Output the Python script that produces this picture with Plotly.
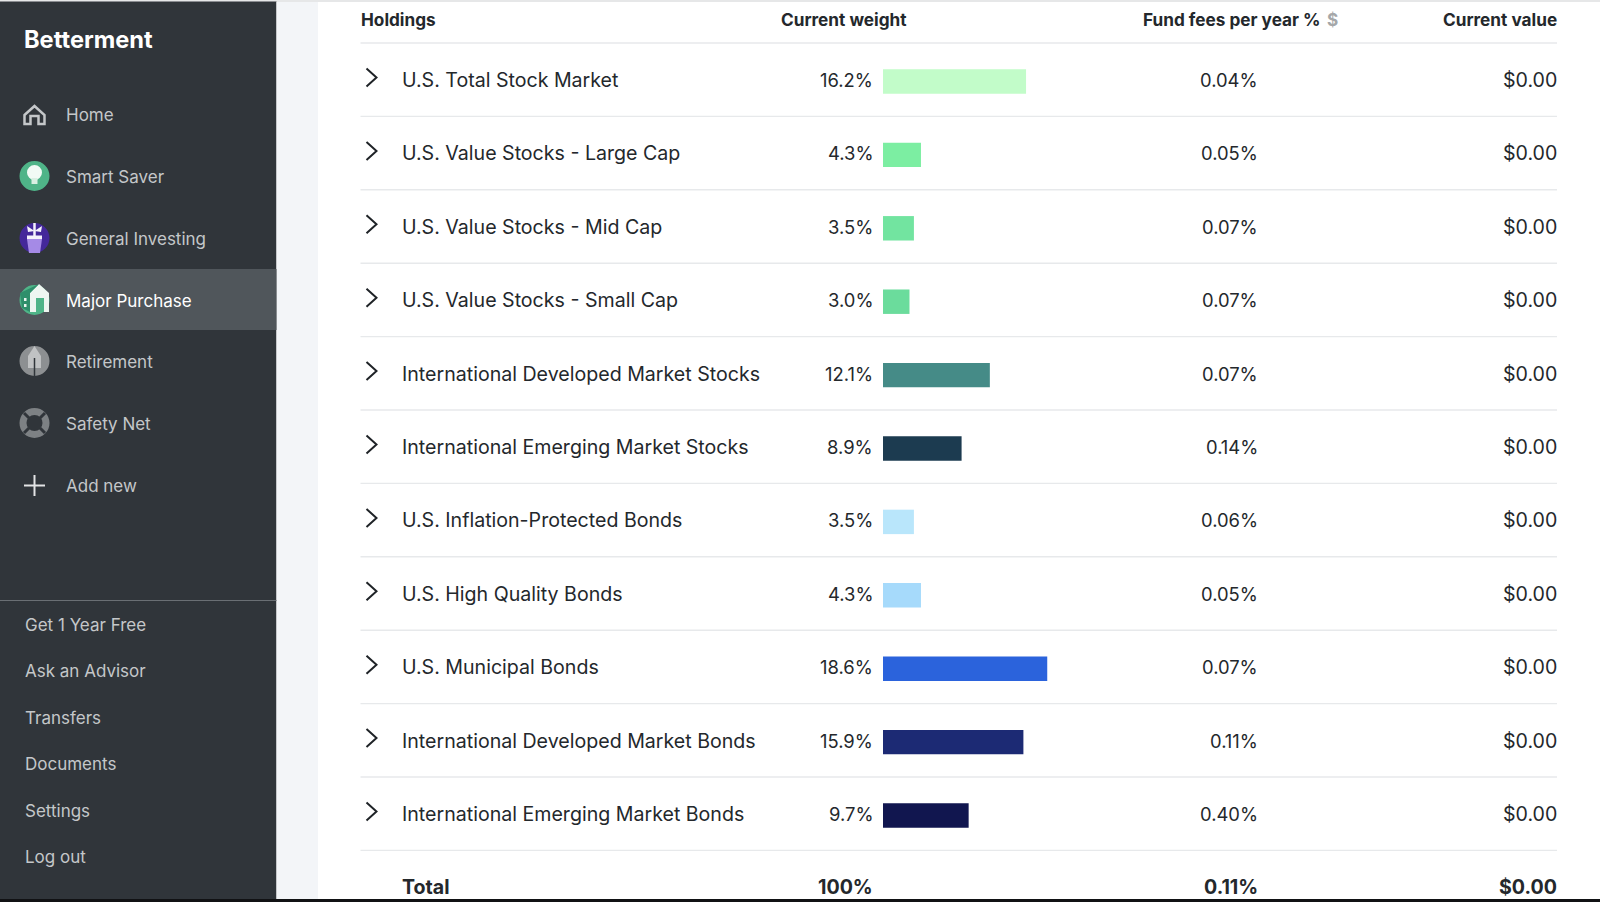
import plotly.graph_objects as go

holdings = ["U.S. Total Stock Market", "U.S. Value Stocks - Large Cap", "U.S. Value Stocks - Mid Cap",
            "U.S. Value Stocks - Small Cap", "International Developed Market Stocks",
            "International Emerging Market Stocks", "U.S. Inflation-Protected Bonds", "U.S. High Quality Bonds",
            "U.S. Municipal Bonds", "International Developed Market Bonds", "International Emerging Market Bonds"]
weights = [16.2, 4.3, 3.5, 3.0, 12.1, 8.9, 3.5, 4.3, 18.6, 15.9, 9.7]
fees = ["0.04%", "0.05%", "0.07%", "0.07%", "0.07%", "0.14%", "0.06%", "0.05%", "0.07%", "0.11%", "0.40%"]
values = ["$0.00"] * 11
bar_colors = ["#c2fcc9", "#7ceea2", "#72e4a0", "#6bdc9c", "#458b87", "#1c3b50",
              "#b9e6fb", "#a6dafb", "#2b63dc", "#1c2a74", "#11164f"]
total_label = "Total"
total_weight = "100%"
total_fee = "0.11%"
total_value = "$0.00"
nav_top = ["Home", "Smart Saver", "General Investing", "Major Purchase", "Retirement", "Safety Net", "Add new"]
nav_top_y = [115, 177, 239, 301, 362, 424, 486]
nav_bottom = ["Get 1 Year Free", "Ask an Advisor", "Transfers", "Documents", "Settings", "Log out"]
nav_bottom_y = [625, 671, 718, 764, 811, 857]

W, H = 1600, 902
BODY = "Inter"
HEAD = "Inter"
INK = "#24282c"
categories = holdings + [total_label]
PX_PER_PCT = 8.83
ZERO_X = 883
ROW = 73.4
ROW0 = 81.5
TXT_SHIFT = -1.5


def X(p):
    return p / W


def Y(p):
    return 1 - p / H


def rect(x0, y0, x1, y1, color, layer="below"):
    return dict(type="rect", xref="paper", yref="paper", x0=X(x0), x1=X(x1), y0=Y(y0), y1=Y(y1),
                fillcolor=color, line_width=0, layer=layer)


def circle(cx, cy, r, color):
    return dict(type="circle", xref="paper", yref="paper", x0=X(cx - r), x1=X(cx + r), y0=Y(cy - r), y1=Y(cy + r),
                fillcolor=color, line_width=0, layer="above")


def path(points, fill=None, line=None, width=2, closed=False):
    d = "M " + " L ".join(f"{X(a):.5f},{Y(b):.5f}" for a, b in points) + (" Z" if closed else "")
    s = dict(type="path", xref="paper", yref="paper", path=d, layer="above",
             line=dict(color=line or "rgba(0,0,0,0)", width=width if line else 0))
    if fill:
        s["fillcolor"] = fill
    return s


def text(x, y, s, size, color, anchor="left", font=BODY, yref="paper", yshift=0):
    return dict(x=X(x), y=Y(y) if yref == "paper" else y, xref="paper", yref=yref, text=s, showarrow=False,
                xanchor=anchor, yanchor="middle", borderpad=0, align=anchor, yshift=-yshift,
                font=dict(family=font, size=size, color=color))


fig = go.Figure(go.Bar(x=weights, y=holdings, orientation="h", width=0.333,
                       marker=dict(color=bar_colors, line_width=0), hoverinfo="skip"))

shapes = [
    rect(0, 0, W, 2, "#e6e7e8"),
    rect(0, 1.5, 276.5, 899, "#30353a"),
    rect(276.5, 2, 318, 899, "#f3f5f8"),
    rect(0, 269, 276.5, 330, "#50565b"),
    rect(0, 600, 276.5, 601, "#6a6f74"),
    rect(0, 899, W, H, "#111214"),
]
for i in range(12):
    yy = 43 + ROW * i
    shapes.append(rect(360.5, yy - 0.7, 1557, yy + 0.7, "#e7e9eb"))
for i in range(len(holdings)):
    c = ROW0 + ROW * i - 4
    shapes.append(path([(366.5, c - 9), (376.5, c), (366.5, c + 9)], line="#1f2327", width=2))

LIGHT = "#c4c7c9"
shapes += [
    # home
    path([(24.5, 115), (34.5, 106), (44.5, 115), (44.5, 124), (38.5, 124), (38.5, 116), (30.5, 116), (30.5, 124),
          (24.5, 124)], line=LIGHT, width=2.5, closed=True),
    # bulb
    circle(34.5, 176, 15, "#4fb488"),
    circle(34.5, 172.5, 7.5, "#f2faf5"),
    rect(31.5, 178, 37.5, 184, "#d9efe2", layer="above"),
    # plant
    circle(34.5, 238, 15, "#44289a"),
    path([(27, 239), (42, 239), (40, 253), (29, 253)], fill="#a58ae6", closed=True),
    rect(27, 235.5, 42, 239, "#f4f2fb", layer="above"),
    path([(34.5, 223), (34.5, 236)], line="#f4f2fb", width=2.5),
    path([(34.5, 231), (27, 226), (28, 232)], fill="#f4f2fb", closed=True),
    path([(34.5, 231), (42, 226), (41, 232)], fill="#f4f2fb", closed=True),
    # house
    circle(34.5, 300, 15, "#4fb488"),
    path([(30, 293), (39, 284), (49, 293), (49, 312), (30, 312)], fill="#eef6f1", closed=True),
    path([(20, 293), (39, 284), (30, 293), (30, 312), (22, 308)], fill="#2f8f6b", closed=True),
    path([(36, 298), (44, 298), (44, 312), (36, 312)], fill="#4fb488", closed=True),
    rect(24, 298, 26.5, 301, "#eaf4ee", layer="above"),
    rect(24, 304, 26.5, 307, "#eaf4ee", layer="above"),
    # rocket
    circle(34.5, 361, 15, "#8d9092"),
    path([(34.5, 346), (41, 356), (41, 368), (28, 368), (28, 356)], fill="#c0c2c3", closed=True),
    path([(34.5, 358), (34.5, 376)], line="#30353a", width=1.5),
    # life ring
    circle(34.5, 423, 15, "#7d8184"),
    circle(34.5, 423, 8, "#30353a"),
    path([(24, 413), (29, 418)], line="#30353a", width=3),
    path([(45, 413), (40, 418)], line="#30353a", width=3),
    path([(24, 433), (29, 428)], line="#30353a", width=3),
    path([(45, 433), (40, 428)], line="#30353a", width=3),
    # plus
    path([(24, 485.5), (45, 485.5)], line="#e3e4e5", width=2),
    path([(34.5, 475), (34.5, 496)], line="#e3e4e5", width=2),
]

HSIZE = 17.2
ann = [
    text(22.5, 40, "<b>Betterment</b>", 23.6, "#ffffff"),
    text(360, 19.5, "<b>Holdings</b>", HSIZE, INK, font=HEAD),
    text(779.5, 19.5, "<b>Current weight</b>", HSIZE, INK, font=HEAD),
    text(1322, 19.5, "<b>Fund fees per year %</b>", HSIZE, INK, "right", HEAD),
    text(1326, 19.5, "<b>$</b>", HSIZE, "#a5a7a9", font=HEAD),
    text(1558, 19.5, "<b>Current value</b>", HSIZE, INK, "right", HEAD),
]
for label, yy in zip(nav_top, nav_top_y):
    ann.append(text(65, yy, label, 17, "#ffffff" if label == "Major Purchase" else "#c4c7c9"))
for label, yy in zip(nav_bottom, nav_bottom_y):
    ann.append(text(23.5, yy, label, 17, "#c4c7c9"))
for name, w, f, v in zip(holdings, weights, fees, values):
    ann.append(text(401, name, name, 19.6, INK, yref="y", yshift=TXT_SHIFT))
    ann.append(text(874, name, f"{w:.1f}%", 18.4, INK, "right", yref="y", yshift=TXT_SHIFT))
    ann.append(text(1259, name, f, 18.4, INK, "right", yref="y", yshift=TXT_SHIFT))
    ann.append(text(1558, name, v, 19.6, INK, "right", yref="y", yshift=TXT_SHIFT))
ann.append(text(401, total_label, f"<b>{total_label}</b>", 19.6, INK, yref="y", yshift=TXT_SHIFT))
ann.append(text(874, total_label, f"<b>{total_weight}</b>", 19.6, INK, "right", yref="y", yshift=TXT_SHIFT))
ann.append(text(1259, total_label, f"<b>{total_fee}</b>", 19.6, INK, "right", yref="y", yshift=TXT_SHIFT))
ann.append(text(1558, total_label, f"<b>{total_value}</b>", 19.6, INK, "right", yref="y", yshift=TXT_SHIFT))

fig.update_layout(
    width=W, height=H, margin=dict(l=0, r=0, t=0, b=0), showlegend=False,
    paper_bgcolor="#ffffff", plot_bgcolor="rgba(0,0,0,0)",
    xaxis=dict(visible=False, range=[-ZERO_X / PX_PER_PCT, (W - ZERO_X) / PX_PER_PCT], fixedrange=True),
    yaxis=dict(visible=False, type="category", categoryorder="array", categoryarray=categories,
               range=[(H - ROW0) / ROW, -ROW0 / ROW], fixedrange=True),
    shapes=shapes, annotations=ann,
)
fig.write_html("out.html", config=dict(displayModeBar=False),
               post_script="document.body.style.margin='0';")
